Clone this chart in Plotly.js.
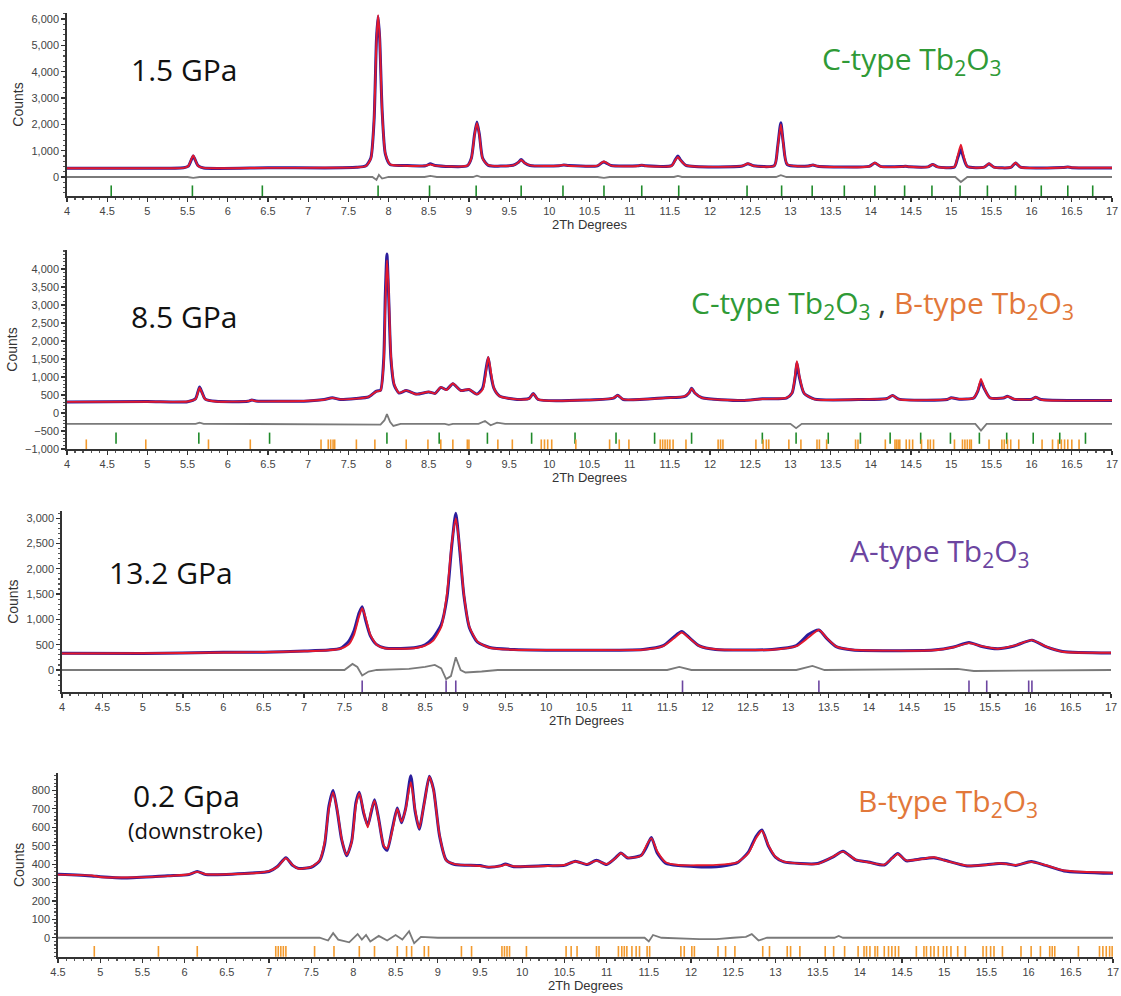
<!DOCTYPE html>
<html>
<head>
<meta charset="utf-8">
<script src="https://cdn.plot.ly/plotly-3.0.1.min.js"></script>
<style>html,body{margin:0;padding:0;background:#fff;}#chart{width:1121px;height:996px;}</style>
</head>
<body>
<div id="chart"></div>
<script>
// ---------------- Panel 1: 1.5 GPa ----------------
const p1X = [
4, 5.0, 5.45, 5.51, 5.54, 5.57, 5.6, 5.63, 5.7, 6.5,
7.2, 7.6, 7.72, 7.78, 7.82, 7.85, 7.87, 7.89, 7.92, 7.96,
8.02, 8.2, 8.46, 8.52, 8.58, 8.98, 9.03, 9.07, 9.1, 9.13,
9.17, 9.24, 9.55, 9.61, 9.65, 9.69, 9.76, 10.12, 10.18, 10.24,
10.6, 10.65, 10.68, 10.71, 10.77, 11.1, 11.15, 11.2, 11.52, 11.57,
11.6, 11.63, 11.7, 12.4, 12.47, 12.54, 12.8, 12.84, 12.88, 12.91,
12.96, 13.22, 13.28, 13.34, 13.98, 14.05, 14.12, 14.38, 14.43, 14.48,
14.71, 14.77, 14.83, 15.04, 15.08, 15.12, 15.15, 15.2, 15.41, 15.47,
15.53, 15.74, 15.8, 15.86, 16.4, 16.45, 16.5, 17];
const p1Calc = [
330, 335, 345, 420, 620, 820, 620, 420, 345, 345,
350, 365, 420, 700, 2200, 5200, 6150, 5300, 2500, 900,
480, 430, 430, 480, 430, 430, 700, 1600, 2050, 1600,
700, 450, 440, 540, 650, 540, 440, 430, 460, 430,
430, 540, 590, 540, 430, 420, 450, 420, 425, 650,
760, 640, 440, 420, 510, 420, 430, 1100, 2000, 1300,
480, 410, 460, 410, 400, 540, 400, 390, 410, 390,
380, 480, 380, 385, 800, 1230, 850, 400, 370, 510,
370, 370, 540, 370, 360, 380, 360, 350];
const p1Obs = [
335, 330, 350, 410, 600, 800, 610, 430, 340, 350,
345, 370, 430, 720, 2150, 5250, 6100, 5250, 2550, 880,
470, 440, 425, 500, 440, 425, 710, 1620, 2090, 1620,
720, 445, 445, 545, 660, 545, 435, 425, 455, 435,
425, 530, 570, 530, 435, 425, 445, 425, 430, 670,
800, 660, 445, 415, 505, 425, 435, 1130, 2060, 1320,
470, 415, 455, 405, 405, 530, 405, 395, 405, 385,
385, 475, 385, 380, 720, 1040, 760, 395, 375, 500,
375, 365, 530, 375, 365, 375, 355, 345];
const p1DiffX = [4, 5.5, 5.57, 5.65, 7.8, 7.85, 7.88, 7.92, 8.0, 8.45, 8.52, 8.6, 9.05, 9.1, 9.15, 10.6, 10.68, 10.75, 11.55, 11.6, 11.65, 12.82, 12.88, 12.95, 15.05, 15.12, 15.2, 17];
const p1Diff = [0, 0, -30, 0, 0, -110, 80, -60, 0, 0, 40, 0, 0, 50, 0, 0, -30, 0, 0, 40, 0, 0, 70, 0, 0, -190, 0, 0];
const p1CType = [4.55, 5.56, 6.43, 7.87, 8.51, 9.09, 9.65, 10.17, 10.68, 11.15, 11.61, 12.46, 12.89, 13.27, 13.67, 14.05, 14.42, 14.76, 15.11, 15.45, 15.8, 16.12, 16.45, 16.76];

// ---------------- Panel 2: 8.5 GPa ----------------
const p2X = [
4, 5.0, 5.5, 5.6, 5.63, 5.65, 5.68, 5.72, 5.85, 6.25,
6.3, 6.35, 7.0, 7.2, 7.3, 7.4, 7.6, 7.75, 7.85, 7.9,
7.94, 7.96, 7.98, 8.0, 8.03, 8.07, 8.13, 8.22, 8.35, 8.5,
8.58, 8.65, 8.72, 8.8, 8.9, 9.0, 9.1, 9.17, 9.21, 9.24,
9.27, 9.31, 9.38, 9.6, 9.75, 9.8, 9.86, 10.5, 10.8, 10.85,
10.92, 11.45, 11.68, 11.74, 11.77, 11.81, 11.9, 12.4, 12.65, 12.95,
13.02, 13.06, 13.08, 13.11, 13.17, 13.3, 13.9, 14.2, 14.27, 14.35,
14.95, 15.0, 15.1, 15.28, 15.33, 15.37, 15.41, 15.48, 15.65, 15.7,
15.78, 16.0, 16.05, 16.12, 17];
const p2Calc = [
310, 315, 320, 390, 580, 700, 560, 380, 320, 330,
360, 330, 340, 370, 420, 380, 400, 450, 600, 620,
1400, 3000, 4250, 3500, 1600, 800, 560, 630, 520, 590,
540, 720, 640, 820, 620, 660, 520, 650, 1100, 1560,
1200, 700, 470, 380, 400, 540, 380, 360, 420, 490,
380, 420, 460, 560, 680, 560, 420, 350, 390, 420,
560, 1100, 1440, 1050, 550, 380, 380, 400, 490, 380,
380, 420, 390, 420, 620, 950, 700, 420, 420, 460,
390, 380, 440, 370, 350];
const p2Obs = [
305, 320, 315, 400, 600, 720, 570, 385, 325, 325,
365, 335, 335, 375, 425, 375, 405, 445, 610, 630,
1500, 3300, 4420, 3350, 1500, 780, 555, 625, 525, 585,
545, 710, 650, 810, 625, 655, 525, 690, 1180, 1540,
1100, 690, 475, 375, 405, 545, 375, 365, 415, 495,
375, 425, 455, 565, 690, 555, 425, 345, 395, 415,
555, 1020, 1400, 1000, 545, 385, 375, 405, 485, 385,
375, 425, 385, 415, 600, 870, 680, 425, 415, 465,
385, 385, 435, 375, 345];
const p2DiffX = [4, 5.6, 5.65, 5.7, 7.9, 7.95, 7.98, 8.02, 8.06, 8.15, 8.7, 8.75, 8.8, 9.12, 9.2, 9.27, 9.35, 9.45, 13.0, 13.07, 13.14, 15.3, 15.37, 15.44, 17];
const p2Diff = [-300, -300, -270, -300, -320, -200, -30, -250, -360, -300, -300, -330, -300, -300, -220, -340, -270, -300, -300, -420, -300, -300, -490, -300, -300];
const p2CType = [4.61, 5.64, 6.52, 7.98, 8.63, 9.23, 9.78, 10.32, 10.83, 11.31, 11.77, 12.65, 13.07, 13.47, 13.87, 14.24, 14.62, 14.99, 15.35, 15.69, 16.02, 16.35, 16.67];
const p2BType = [4.24, 4.98, 5.76, 6.28, 7.16, 7.25, 7.28, 7.31, 7.33, 7.6, 7.83, 8.22, 8.49, 8.65, 8.8, 8.98, 9.0, 9.36, 9.54, 9.9, 9.94, 9.98, 10.03, 10.33, 10.75, 10.87, 10.99, 11.38, 11.41, 11.44, 11.47, 11.5, 11.54, 11.7, 12.1, 12.13, 12.16, 12.57, 12.66, 12.7, 12.73, 12.98, 13.13, 13.33, 13.36, 13.45, 13.81, 13.84, 14.18, 14.3, 14.32, 14.34, 14.36, 14.44, 14.48, 14.52, 14.63, 14.71, 14.74, 14.78, 15.04, 15.14, 15.17, 15.2, 15.23, 15.25, 15.47, 15.63, 15.66, 15.7, 15.74, 15.84, 16.13, 16.26, 16.33, 16.37, 16.41, 16.45, 16.5, 16.59];

// ---------------- Panel 3: 13.2 GPa ----------------
const p3X = [
4, 5, 6, 6.5, 7.0, 7.3, 7.45, 7.55, 7.62, 7.68,
7.72, 7.76, 7.82, 7.9, 8.0, 8.2, 8.4, 8.5, 8.6, 8.7,
8.77, 8.83, 8.88, 8.93, 8.98, 9.05, 9.15, 9.3, 9.6, 10.5,
11.2, 11.45, 11.58, 11.68, 11.78, 11.9, 12.1, 12.8, 13.1, 13.25,
13.38, 13.48, 13.6, 13.8, 14.8, 15.05, 15.24, 15.4, 15.6, 15.8,
16.02, 16.2, 16.4, 17];
const p3Calc = [
325, 330, 345, 355, 370, 390, 420, 500, 700, 1050,
1220, 1050, 700, 500, 430, 420, 440, 480, 580, 850,
1500, 2500, 3000, 2400, 1500, 850, 560, 440, 400, 395,
400, 470, 620, 740, 620, 470, 410, 400, 470, 640,
790, 630, 460, 400, 390, 450, 530, 470, 420, 480,
590, 460, 360, 340];
const p3Obs = [
330, 325, 350, 350, 375, 395, 425, 560, 780, 1120,
1250, 1000, 680, 500, 435, 425, 450, 500, 640, 900,
1420, 2450, 3100, 2350, 1480, 830, 550, 445, 405, 390,
405, 480, 650, 760, 630, 475, 405, 405, 480, 700,
790, 620, 455, 395, 395, 455, 545, 465, 420, 475,
590, 455, 365, 335];
const p3DiffX = [4, 7.5, 7.6, 7.66, 7.72, 7.8, 7.9, 8.3, 8.5, 8.62, 8.7, 8.76, 8.82, 8.88, 8.94, 9.0, 9.2, 9.4, 11.5, 11.65, 11.8, 13.1, 13.3, 13.45, 15.1, 15.3, 17];
const p3Diff = [0, 0, 120, 60, -110, -30, 0, 20, 60, 100, 30, -180, -120, 250, 0, -50, -30, 0, 0, 60, 0, 0, 80, 0, 20, -20, 0];
const p3AType = [7.72, 8.76, 8.88, 11.69, 13.38, 15.24, 15.46, 15.98, 16.02];

// ---------------- Panel 4: 0.2 GPa (downstroke) ----------------
const p4X = [
4.5, 4.9, 5.0, 5.3, 5.8, 6.05, 6.15, 6.25, 6.8, 7.0,
7.1, 7.2, 7.28, 7.35, 7.5, 7.6, 7.66, 7.71, 7.76, 7.81,
7.86, 7.92, 7.98, 8.03, 8.07, 8.12, 8.17, 8.21, 8.25, 8.3,
8.36, 8.4, 8.46, 8.52, 8.57, 8.62, 8.68, 8.73, 8.78, 8.84,
8.9, 8.95, 9.02, 9.1, 9.2, 9.5, 9.6, 9.75, 9.8, 9.9,
10.3, 10.5, 10.63, 10.77, 10.88, 11.0, 11.1, 11.17, 11.25, 11.41,
11.47, 11.53, 11.6, 11.7, 11.85, 12.3, 12.55, 12.68, 12.77, 12.84,
12.92, 13.0, 13.1, 13.5, 13.68, 13.8, 13.95, 14.1, 14.29, 14.38,
14.45, 14.55, 14.7, 14.88, 15.0, 15.27, 15.5, 15.65, 15.74, 15.85,
16.03, 16.2, 16.42, 17];
const p4Calc = [
343, 338, 330, 327, 335, 345, 358, 345, 350, 362,
385, 432, 395, 375, 385, 420, 520, 700, 790, 690,
540, 450, 520, 720, 785, 690, 600, 690, 745, 640,
500, 485, 580, 700, 630, 700, 845, 700, 595, 730,
875, 800, 560, 420, 400, 390, 385, 390, 398, 388,
390, 395, 414, 400, 419, 400, 430, 459, 435, 446,
500, 541, 470, 410, 395, 396, 410, 460, 540, 581,
500, 440, 414, 401, 440, 468, 425, 410, 397, 430,
455, 420, 425, 437, 420, 392, 395, 405, 400, 395,
412, 395, 365, 353];
const p4Obs = [
345, 336, 332, 325, 337, 343, 360, 343, 352, 360,
387, 435, 393, 377, 383, 418, 510, 715, 800, 685,
535, 445, 525, 735, 790, 680, 610, 680, 750, 645,
495, 475, 590, 705, 625, 705, 880, 690, 590, 735,
878, 805, 555, 422, 398, 392, 383, 392, 400, 386,
392, 393, 416, 398, 421, 398, 432, 461, 433, 448,
490, 545, 460, 405, 392, 385, 408, 465, 550, 585,
495, 438, 412, 403, 438, 470, 423, 412, 395, 432,
457, 418, 427, 435, 422, 390, 397, 403, 402, 393,
414, 393, 363, 350];
const p4DiffX = [4.5, 7.6, 7.7, 7.76, 7.82, 7.95, 8.05, 8.1, 8.15, 8.2, 8.3, 8.4, 8.5, 8.58, 8.66, 8.72, 8.8, 9.0, 11.45, 11.5, 11.55, 11.65, 12.1, 12.3, 12.5, 12.65, 12.72, 12.8, 12.9, 13.7, 13.75, 13.8, 17];
const p4Diff = [0, 0, -15, 25, -10, -25, 20, -10, 15, -20, 10, -15, 15, -10, 35, -30, 5, 0, 0, -20, 15, 0, -8, -8, 0, 5, 20, -15, 0, 0, 10, 0, 0];
const p4BType = [4.93, 5.69, 6.15, 7.08, 7.11, 7.14, 7.17, 7.2, 7.54, 7.77, 8.07, 8.25, 8.52, 8.63, 8.69, 8.84, 8.89, 9.28, 9.4, 9.76, 9.79, 9.82, 9.85, 10.05, 10.52, 10.58, 10.65, 10.88, 10.91, 11.14, 11.18, 11.21, 11.24, 11.3, 11.35, 11.39, 11.48, 11.51, 11.88, 11.92, 12.01, 12.04, 12.32, 12.41, 12.52, 12.85, 12.93, 13.14, 13.18, 13.29, 13.59, 13.69, 13.82, 13.98, 14.05, 14.08, 14.12, 14.18, 14.21, 14.29, 14.34, 14.38, 14.42, 14.46, 14.67, 14.76, 14.79, 14.84, 14.88, 14.93, 14.99, 15.03, 15.08, 15.16, 15.25, 15.46, 15.5, 15.55, 15.59, 15.69, 15.91, 16.03, 16.14, 16.25, 16.28, 16.31, 16.59, 16.84, 16.88, 16.92, 16.96, 16.99];

// ---------------- Labels ----------------
const panelLabels = ['1.5 GPa', '8.5 GPa', '13.2 GPa', '0.2 Gpa'];
const subLabel = '(downstroke)';
const yTicks1 = [0, 1000, 2000, 3000, 4000, 5000, 6000];
const yTicks2 = [-1000, -500, 0, 500, 1000, 1500, 2000, 2500, 3000, 3500, 4000];
const yTicks3 = [0, 500, 1000, 1500, 2000, 2500, 3000];
const yTicks4 = [0, 100, 200, 300, 400, 500, 600, 700, 800];

// ---------------- Styling / build ----------------
const W = 1121, H = 996;
const OBS = '#2b1d9c', CALC = '#e3192d', DIFF = '#7a7a7a';
const GREEN = '#2f9a36', TICKGR = '#1f8a2a', ORANGE = '#e2783a', TICKOR = '#f29a2e', PURPLE = '#6c45a0';

function curveTraces(n, x, obs, calc, dx, diff) {
  const ax = n === 1 ? '' : String(n);
  return [
    {x: x, y: obs, xaxis: 'x' + ax, yaxis: 'y' + ax, mode: 'lines', line: {color: OBS, width: 3, shape: 'spline', smoothing: 0.6}, hoverinfo: 'skip'},
    {x: x, y: calc, xaxis: 'x' + ax, yaxis: 'y' + ax, mode: 'lines', line: {color: CALC, width: 1.9, shape: 'spline', smoothing: 0.6}, hoverinfo: 'skip'},
    {x: dx, y: diff, xaxis: 'x' + ax, yaxis: 'y' + ax, mode: 'lines', line: {color: DIFF, width: 1.8, shape: 'linear'}, hoverinfo: 'skip'}
  ];
}
function tickTrace(n, pos, level, color, size) {
  const ax = n === 1 ? '' : String(n);
  return {x: pos, y: pos.map(() => level), xaxis: 'x' + ax, yaxis: 'y' + ax, mode: 'markers',
    marker: {symbol: 'line-ns', size: size, color: color, line: {color: color, width: 1.6}}, hoverinfo: 'skip'};
}

const data = [].concat(
  curveTraces(1, p1X, p1Obs, p1Calc, p1DiffX, p1Diff),
  [tickTrace(1, p1CType, -560, TICKGR, 9)],
  curveTraces(2, p2X, p2Obs, p2Calc, p2DiffX, p2Diff),
  [tickTrace(2, p2CType, -700, TICKGR, 8), tickTrace(2, p2BType, -890, TICKOR, 8)],
  curveTraces(3, p3X, p3Obs, p3Calc, p3DiffX, p3Diff),
  [tickTrace(3, p3AType, -330, PURPLE, 9)],
  curveTraces(4, p4X, p4Obs, p4Calc, p4DiffX, p4Diff),
  [tickTrace(4, p4BType, -75, TICKOR, 8)]
);

const tickFont = {family: 'Liberation Sans, Arial, sans-serif', size: 11, color: '#444'};
const titleFont = {family: 'Liberation Sans, Arial, sans-serif', size: 14, color: '#333'};
function xAx(d0, d1, anchor, r0) {
  return {domain: [d0 / W, d1 / W], anchor: anchor, range: [r0, 17], dtick: 0.5, tick0: 4,
    showline: true, linecolor: '#333', linewidth: 1.8, ticks: 'outside', ticklen: 4, tickcolor: '#333', tickwidth: 1.2,
    minor: {dtick: 0.1, ticks: 'outside', ticklen: 2, tickcolor: '#555'},
    showgrid: false, zeroline: false, tickfont: tickFont,
    title: {text: '2Th Degrees', font: {family: titleFont.family, size: 13, color: '#333'}, standoff: 2}};
}
function yAx(p0, p1, anchor, range, vals, minor) {
  return {domain: [1 - p1 / H, 1 - p0 / H], anchor: anchor, range: range, tickmode: 'array', tickvals: vals,
    tickformat: ',d', showline: true, linecolor: '#333', linewidth: 1.8, ticks: 'outside', ticklen: 4, tickcolor: '#333', tickwidth: 1.2,
    minor: {dtick: minor, ticks: 'outside', ticklen: 2, tickcolor: '#555', tickmode: 'linear'},
    showgrid: false, zeroline: false, tickfont: tickFont,
    title: {text: 'Counts', font: titleFont, standoff: 4}};
}

function ann(text, px, py, size, color) {
  return {text: text, x: px / W, y: 1 - py / H, xref: 'paper', yref: 'paper', showarrow: false,
    xanchor: 'center', yanchor: 'middle', font: {family: '"Open Sans", sans-serif', size: size, color: color}};
}
const annotations = [
  ann(panelLabels[0], 184, 70, 30, '#111'),
  ann('C-type Tb<sub>2</sub>O<sub>3</sub>', 912, 60, 30, GREEN),
  ann(panelLabels[1], 184, 317, 30, '#111'),
  ann('<span style="color:' + GREEN + '">C-type Tb<sub>2</sub>O<sub>3</sub></span><span style="color:#333"> , </span><span style="color:' + ORANGE + '">B-type Tb<sub>2</sub>O<sub>3</sub></span>', 882, 304, 30, GREEN),
  ann(panelLabels[2], 171, 572, 30, '#111'),
  ann('A-type Tb<sub>2</sub>O<sub>3</sub>', 940, 552, 30, PURPLE),
  ann(panelLabels[3], 186, 795, 30, '#111'),
  ann(subLabel, 195, 830, 22, '#111'),
  ann('B-type Tb<sub>2</sub>O<sub>3</sub>', 948, 802, 30, ORANGE)
];

const layout = {
  width: W, height: H, margin: {l: 0, r: 0, t: 0, b: 0},
  paper_bgcolor: '#fff', plot_bgcolor: '#fff', showlegend: false,
  xaxis: xAx(67, 1112, 'y', 4),
  yaxis: yAx(13, 196, 'x', [-722, 6230], yTicks1, 200),
  xaxis2: xAx(67, 1112, 'y2', 4),
  yaxis2: yAx(250, 449, 'x2', [-1000, 4530], yTicks2, 100),
  xaxis3: xAx(62, 1111, 'y3', 4),
  yaxis3: yAx(511, 692.3, 'x3', [-441, 3142], yTicks3, 100),
  xaxis4: xAx(58, 1113, 'y4', 4.5),
  yaxis4: yAx(773, 956.7, 'x4', [-103, 895], yTicks4, 20),
  annotations: annotations
};

Plotly.newPlot('chart', data, layout, {displayModeBar: false, staticPlot: true});
</script>
</body>
</html>
